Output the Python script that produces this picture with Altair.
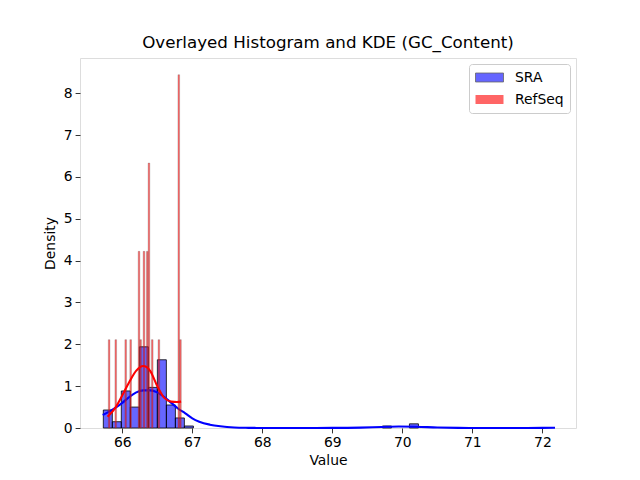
import altair as alt
import pandas as pd

# ---- data ----
sra_bin_start = [65.729, 65.858, 65.986, 66.115, 66.244, 66.372, 66.501, 66.630,
                 66.758, 66.887, 69.716, 70.101]
sra_density = [0.43, 0.15, 0.885, 0.50, 1.94, 0.97, 1.63, 0.55, 0.24, 0.048, 0.048, 0.10]
sra_bin_width = 0.1286

ref_bin_start = [65.800, 65.895, 66.037, 66.108, 66.227, 66.250, 66.298, 66.345,
                 66.369, 66.416, 66.511, 66.795, 66.819]
ref_density = [2.11, 2.11, 2.11, 2.11, 4.22, 2.11, 4.22, 4.22, 6.33, 2.11, 2.11, 8.44, 2.11]
ref_bin_width = 0.0237

sra_kde_x = [65.72, 65.80, 65.90, 66.00, 66.10, 66.20, 66.30, 66.40, 66.50, 66.60,
             66.70, 66.80, 66.90, 67.00, 67.10, 67.25, 67.40, 67.60, 67.80, 68.00,
             68.50, 69.00, 69.40, 69.70, 69.95, 70.20, 70.50, 70.80, 71.20, 71.60,
             72.00, 72.18]
sra_kde_y = [0.31, 0.38, 0.48, 0.60, 0.74, 0.85, 0.90, 0.90, 0.85, 0.74,
             0.60, 0.46, 0.35, 0.23, 0.15, 0.08, 0.04, 0.012, 0.004, 0.001,
             0.0, 0.002, 0.01, 0.025, 0.035, 0.03, 0.012, 0.003, 0.0, 0.0,
             0.002, 0.006]

ref_kde_x = [65.79, 65.90, 66.00, 66.10, 66.20, 66.30, 66.40, 66.50, 66.60, 66.70, 66.78, 66.84]
ref_kde_y = [0.27, 0.48, 0.78, 1.10, 1.37, 1.48, 1.36, 1.00, 0.72, 0.63, 0.62, 0.63]

series_names = ["SRA", "RefSeq"]
x_ticks = [66, 67, 68, 69, 70, 71, 72]
y_ticks = [0, 1, 2, 3, 4, 5, 6, 7, 8]

# ---- tables ----
sra_df = pd.DataFrame({
    "start": sra_bin_start,
    "end": [s + sra_bin_width for s in sra_bin_start],
    "density": sra_density,
    "series": "SRA",
})
ref_df = pd.DataFrame({
    "start": ref_bin_start,
    "end": [s + ref_bin_width for s in ref_bin_start],
    "density": ref_density,
    "series": "RefSeq",
})
sra_kde = pd.DataFrame({"x": sra_kde_x, "y": sra_kde_y})
ref_kde = pd.DataFrame({"x": ref_kde_x, "y": ref_kde_y})

FONT = "DejaVu Sans"
xscale = alt.Scale(domain=[65.396, 72.48], nice=False, zero=False)
yscale = alt.Scale(domain=[0, 8.84], nice=False, zero=False)
color_scale = alt.Scale(domain=series_names, range=["blue", "red"])
stroke_scale = alt.Scale(domain=series_names, range=["black", "rgba(0,0,0,0)"])

xaxis = alt.Axis(values=x_ticks, title="Value", format="d", grid=False, domain=False,
                 tickSize=4.9, tickWidth=0.8, tickColor="black", labelPadding=3,
                 labelFontSize=13.9, labelFont=FONT, labelColor="black",
                 titleFontSize=13.9, titleFont=FONT, titleFontWeight="normal",
                 titleColor="black", titlePadding=4)
yaxis = alt.Axis(values=y_ticks, title="Density", format="d", grid=False, domain=False,
                 tickSize=4.9, tickWidth=0.8, tickColor="black", labelPadding=3,
                 labelFontSize=13.9, labelFont=FONT, labelColor="black",
                 titleFontSize=13.9, titleFont=FONT, titleFontWeight="normal",
                 titleColor="black", titlePadding=6)

legend = alt.Legend(
    title=None, orient="top-right", offset=6,
    symbolType="M-2,-0.64H2V0.64H-2Z", symbolSize=196,
    symbolOpacity=0.6, symbolStrokeWidth=0.8, symbolOffset=7,
    labelFontSize=13.9, labelFont=FONT, labelColor="black", labelOffset=18,
    strokeColor="#cccccc", fillColor="white", padding=6, cornerRadius=3,
    rowPadding=7,
)

sra_bars = alt.Chart(sra_df).mark_bar(
    fillOpacity=0.6, strokeWidth=0.8
).encode(
    x=alt.X("start:Q", scale=xscale, axis=xaxis),
    x2="end:Q",
    y=alt.Y("density:Q", scale=yscale, axis=yaxis, stack=None),
    y2=alt.datum(0),
    color=alt.Color("series:N", scale=color_scale, legend=legend, sort=series_names),
    stroke=alt.Stroke("series:N", scale=stroke_scale, legend=legend, sort=series_names),
)

sra_line = alt.Chart(sra_kde).mark_line(
    color="blue", strokeWidth=2.1, interpolate="monotone"
).encode(x=alt.X("x:Q", scale=xscale), y=alt.Y("y:Q", scale=yscale))

ref_bars = alt.Chart(ref_df).mark_bar(
    fillOpacity=0.6, strokeWidth=0.8
).encode(
    x=alt.X("start:Q", scale=xscale),
    x2="end:Q",
    y=alt.Y("density:Q", scale=yscale, stack=None),
    y2=alt.datum(0),
    color=alt.Color("series:N", scale=color_scale, legend=legend, sort=series_names),
    stroke=alt.Stroke("series:N", scale=stroke_scale, legend=legend, sort=series_names),
)

ref_edges = alt.Chart(ref_df).mark_bar(
    fill="transparent", stroke="#555555", strokeWidth=0.5, strokeOpacity=0.5
).encode(
    x=alt.X("start:Q", scale=xscale),
    x2="end:Q",
    y=alt.Y("density:Q", scale=yscale, stack=None),
    y2=alt.datum(0),
)

ref_line = alt.Chart(ref_kde).mark_line(
    color="red", strokeWidth=2.1, interpolate="monotone"
).encode(x=alt.X("x:Q", scale=xscale), y=alt.Y("y:Q", scale=yscale))

chart = alt.layer(sra_bars, sra_line, ref_bars, ref_edges, ref_line).properties(
    width=496, height=370,
    title=alt.Title("Overlayed Histogram and KDE (GC_Content)", fontSize=16.7,
                    font=FONT, fontWeight="normal", color="black",
                    anchor="middle", frame="group", offset=6),
    autosize=alt.AutoSizeParams(type="none"),
    padding={"left": 72, "top": 50, "right": 56, "bottom": 45},
).configure_view(
    stroke="black", strokeWidth=0.8
).configure(background="white")

chart.save("out.html", embed_options={"renderer": "svg", "actions": False})
